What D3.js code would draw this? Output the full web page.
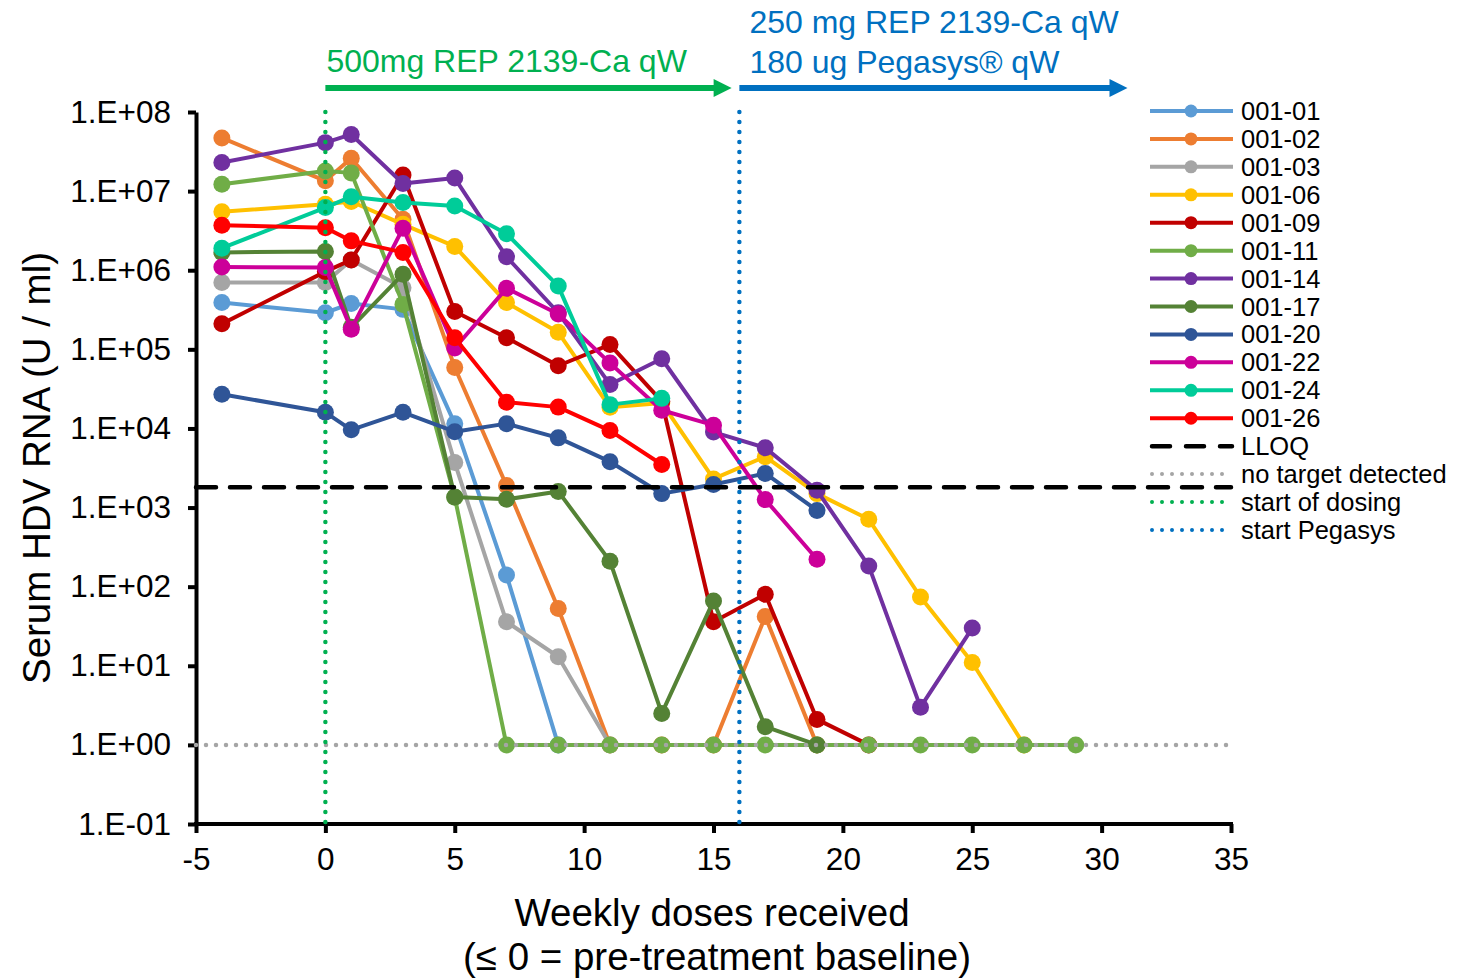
<!DOCTYPE html>
<html><head><meta charset="utf-8">
<script src="https://cdn.jsdelivr.net/npm/d3@7"></script>
<style>body{margin:0;background:#fff;} svg{display:block;font-family:"Liberation Sans",Arial,sans-serif;}</style>
</head><body>
<svg id="c" width="1458" height="978"></svg>
<script>
const seriesNames = ["001-01","001-02","001-03","001-06","001-09","001-11","001-14","001-17","001-20","001-22","001-24","001-26"];
const seriesColors = ["#5B9BD5","#ED7D31","#A5A5A5","#FFC000","#C00000","#70AD47","#7030A0","#548235","#2F5597","#CC0099","#00CC99","#FF0000"];
const s001_01 = [[-4,3.9e5],[0,2.9e5],[1,3.8e5],[3,3.2e5],[5,1.15e4],[7,140],[9,1]];
const s001_02 = [[-4,4.7e7],[0,1.35e7],[1,2.6e7],[3,4.4e6],[5,5.9e4],[7,1.9e3],[9,53],[11,1],[13,1],[15,1],[17,42],[19,1]];
const s001_03 = [[-4,7.0e5],[0,7.0e5],[1,1.35e6],[3,6.0e5],[5,3.7e3],[7,36],[9,13],[11,1]];
const s001_06 = [[-4,5.5e6],[0,6.8e6],[1,7.4e6],[3,3.8e6],[5,2.0e6],[7,3.9e5],[9,1.64e5],[11,1.85e4],[13,2.1e4],[15,2.3e3],[17,4.4e3],[19,1.5e3],[21,710],[23,74],[25,11],[27,1]];
const s001_09 = [[-4,2.1e5],[0,9.6e5],[1,1.35e6],[3,1.6e7],[5,3.0e5],[7,1.4e5],[9,6.2e4],[11,1.15e5],[13,2.2e4],[15,36],[17,80],[19,2.1],[21,1]];
const s001_11 = [[-4,1.22e7],[0,1.8e7],[1,1.7e7],[3,3.7e5],[5,1.35e3],[7,1],[9,1],[11,1],[13,1],[15,1],[17,1],[19,1],[21,1],[23,1],[25,1],[27,1],[29,1]];
const s001_14 = [[-4,2.3e7],[0,4.1e7],[1,5.2e7],[3,1.25e7],[5,1.46e7],[7,1.48e6],[9,2.9e5],[11,3.6e4],[13,7.6e4],[15,9.0e3],[17,5.7e3],[19,1.65e3],[21,183],[23,3.0],[25,30]];
const s001_17 = [[-4,1.68e6],[0,1.73e6],[1,1.9e5],[3,8.9e5],[5,1.36e3],[7,1.27e3],[9,1.6e3],[11,210],[13,2.5],[15,66],[17,1.7],[19,1]];
const s001_20 = [[-4,2.7e4],[0,1.6e4],[1,9.6e3],[3,1.6e4],[5,9.1e3],[7,1.15e4],[9,7.6e3],[11,3.8e3],[13,1.5e3],[15,1.96e3],[17,2.7e3],[19,920]];
const s001_22 = [[-4,1.1e6],[0,1.08e6],[1,1.8e5],[3,3.4e6],[5,1.04e5],[7,5.9e5],[9,2.8e5],[11,6.7e4],[13,1.7e4],[15,1.1e4],[17,1.26e3],[19,222]];
const s001_24 = [[-4,1.9e6],[0,6.2e6],[1,8.5e6],[3,7.2e6],[5,6.5e6],[7,2.9e6],[9,6.3e5],[11,2.0e4],[13,2.4e4]];
const s001_26 = [[-4,3.7e6],[0,3.45e6],[1,2.35e6],[3,1.68e6],[5,1.4e5],[7,2.15e4],[9,1.86e4],[11,9.4e3],[13,3.5e3]];
const seriesValues = [s001_01,s001_02,s001_03,s001_06,s001_09,s001_11,s001_14,s001_17,s001_20,s001_22,s001_24,s001_26];

const lloqValue = 1.8e3;
const noTargetValue = 1;
const startDosingX = 0;
const startPegasysX = 16;
const refXRange = [-5, 35];
const xTicks = [-5,0,5,10,15,20,25,30,35];
const yTicks = [0.1,1,10,100,1e3,1e4,1e5,1e6,1e7,1e8];
const refNames = ["LLOQ","no target detected","start of dosing","start Pegasys"];
const xTitle = ["Weekly doses received","(\u2264 0 = pre-treatment baseline)"];
const yTitle = "Serum HDV RNA (U / ml)";
const phase1Label = ["500mg REP 2139-Ca qW"];
const phase2Label = ["250 mg REP 2139-Ca qW","180 ug Pegasys\u00AE qW"];
const phase1Span = [0, 15.7];
const phase2Span = [16, 31];

const svg = d3.select("#c");
const x = d3.scaleLinear().domain([-5,35]).range([196,1231]);
const y = d3.scaleLog().domain([0.1,1e8]).range([824,112]);

const fmt = v => { const e = Math.round(Math.log10(v)); return "1.E" + (e<0?"-":"+") + String(Math.abs(e)).padStart(2,"0"); };

// axes
const yAxis = svg.append("g").attr("transform","translate(196,0)")
  .call(d3.axisLeft(y).tickValues(yTicks).tickFormat(fmt).tickSize(8).tickSizeOuter(0).tickPadding(17));
const xAxis = svg.append("g").attr("transform","translate(0,824)")
  .call(d3.axisBottom(x).tickValues(xTicks).tickFormat(d => String(d)).tickSize(9).tickSizeOuter(0).tickPadding(15));
[yAxis,xAxis].forEach(a=>{
  a.select(".domain").attr("stroke","#000").attr("stroke-width",4);
  a.selectAll(".tick line").attr("stroke","#000").attr("stroke-width",4);
  a.selectAll(".tick text").attr("font-size",31.5).attr("fill","#000").attr("font-family","Liberation Sans, Arial, sans-serif");
});
xAxis.select(".domain").attr("d", `M${x(-5)-2},0H${x(35)+2}`);

// series
const line = d3.line().x(d=>x(d[0])).y(d=>y(d[1]));
seriesValues.forEach((vals,i)=>{
  const g = svg.append("g");
  g.append("path").attr("d",line(vals)).attr("fill","none").attr("stroke",seriesColors[i]).attr("stroke-width",4).attr("stroke-linejoin","round");
  g.selectAll("circle").data(vals).join("circle").attr("cx",d=>x(d[0])).attr("cy",d=>y(d[1])).attr("r",8.5).attr("fill",seriesColors[i]);
});

// reference lines
const refStyles = [
  {stroke:"#000", dash:"20 14", cap:"round", w:4.5},
  {stroke:"#A5A5A5", dash:"0 10", cap:"round", w:4.5},
  {stroke:"#00B050", dash:"0 10", cap:"round", w:4.5},
  {stroke:"#0070C0", dash:"0 10", cap:"round", w:4.5}
];
const refLines = [
  [[refXRange[0], lloqValue],[refXRange[1], lloqValue]],
  [[refXRange[0], noTargetValue],[refXRange[1], noTargetValue]],
  [[startDosingX, 1e8],[startDosingX, 0.1]],
  [[startPegasysX, 1e8],[startPegasysX, 0.1]]
];
refLines.forEach((pts,i)=>{
  const st = refStyles[i];
  svg.append("path").attr("d", line(pts)).attr("fill","none").attr("stroke",st.stroke)
    .attr("stroke-width",st.w).attr("stroke-dasharray",st.dash).attr("stroke-linecap",st.cap);
});

// phase arrows
function arrow(span,color,yy){
  const x0 = x(span[0]), x1 = x(span[1]);
  svg.append("line").attr("x1",x0).attr("x2",x1-14).attr("y1",yy).attr("y2",yy).attr("stroke",color).attr("stroke-width",6);
  svg.append("path").attr("d",`M${x1},${yy}L${x1-18},${yy-9}L${x1-18},${yy+9}Z`).attr("fill",color);
}
arrow(phase1Span,"#00B050",88);
arrow(phase2Span,"#0070C0",88);
svg.append("text").attr("x",x(phase1Span[0])+1).attr("y",72).attr("font-size",32).attr("fill","#00B050").text(phase1Label[0]);
phase2Label.forEach((t,i)=>svg.append("text").attr("x",x(phase2Span[0])+10).attr("y",33+i*39.5).attr("font-size",32).attr("fill","#0070C0").text(t));

// axis titles
svg.append("text").attr("x",712).attr("y",926).attr("text-anchor","middle").attr("font-size",38.5).text(xTitle[0]);
svg.append("text").attr("x",717).attr("y",970).attr("text-anchor","middle").attr("font-size",38.5).text(xTitle[1]);
svg.append("text").attr("transform","translate(50,468) rotate(-90)").attr("text-anchor","middle").attr("font-size",38.5).text(yTitle);

// legend
const lg = svg.append("g");
const ly0 = 111, ldy = 27.93;
seriesNames.forEach((n,i)=>{
  const yy = ly0 + i*ldy;
  lg.append("line").attr("x1",1150).attr("x2",1233).attr("y1",yy).attr("y2",yy).attr("stroke",seriesColors[i]).attr("stroke-width",4);
  lg.append("circle").attr("cx",1191).attr("cy",yy).attr("r",6.5).attr("fill",seriesColors[i]);
  lg.append("text").attr("x",1241).attr("y",yy+9).attr("font-size",25.5).text(n);
});
refNames.forEach((n,i)=>{
  const yy = ly0 + (12+i)*ldy;
  const st = refStyles[i];
  lg.append("line").attr("x1",1152).attr("x2",1232).attr("y1",yy).attr("y2",yy).attr("stroke",st.stroke)
    .attr("stroke-width",i===0?4.5:4).attr("stroke-dasharray",i===0?"18 16":"0 10").attr("stroke-linecap","round");
  lg.append("text").attr("x",1241).attr("y",yy+9).attr("font-size",25.5).text(n);
});
</script>
</body></html>
